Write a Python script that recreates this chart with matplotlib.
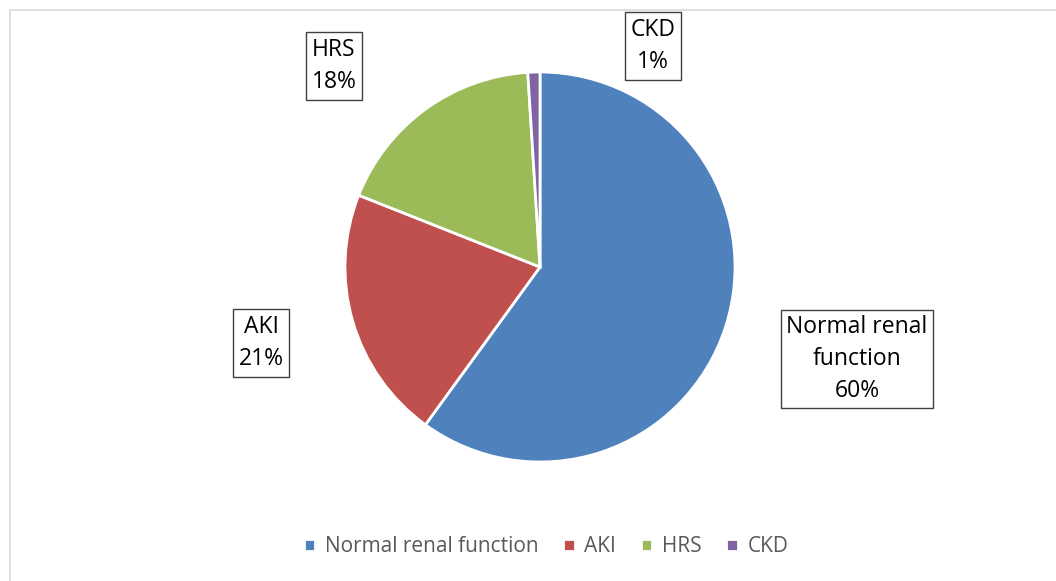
import matplotlib.pyplot as plt
from matplotlib.patches import Rectangle

plt.rcParams['font.family'] = ['Open Sans', 'DejaVu Sans']

categories = ["Normal renal function", "AKI", "HRS", "CKD"]
values = [60, 21, 18, 1]
colors = ["#4F81BD", "#C0504D", "#9BBB59", "#8064A2"]
box_labels = ["Normal renal\nfunction\n60%", "AKI\n21%", "HRS\n18%", "CKD\n1%"]

W, H = 1056, 581
fig = plt.figure(figsize=(W / 100, H / 100), dpi=100)
ax = fig.add_axes([0, 0, 1, 1])
ax.set_xlim(0, W)
ax.set_ylim(0, H)
ax.set_aspect('equal')
ax.axis('off')

# chart area border (continues past the right and bottom edge)
ax.add_patch(Rectangle((10, -5), W + 10, H - 10 + 5, fill=False,
                       edgecolor="#D9D9D9", linewidth=1.2))

wedges, _ = ax.pie(values, colors=colors, startangle=90, counterclock=False,
                   center=(540, H - 267), radius=195,
                   wedgeprops=dict(edgecolor="white", linewidth=2))
ax.set_xlim(0, W)
ax.set_ylim(0, H)

# data label boxes
label_pos = [(857, H - 359), (261, H - 343), (334, H - 66), (653, H - 46)]
for txt, (x, y) in zip(box_labels, label_pos):
    ax.text(x, y, txt, ha="center", va="center", multialignment="center",
            fontsize=16.5, linespacing=1.42, color="black",
            bbox=dict(boxstyle="square,pad=0.25", facecolor="white",
                      edgecolor="#404040", linewidth=1))

leg = ax.legend(wedges, categories, loc="center", bbox_to_anchor=(546 / W, 1 - 547 / H),
                ncol=4, frameon=False, fontsize=15, handlelength=0.55,
                handleheight=0.55, handletextpad=0.45, columnspacing=1.2)
for t in leg.get_texts():
    t.set_color("#595959")

fig.savefig("out.png", dpi=100)
